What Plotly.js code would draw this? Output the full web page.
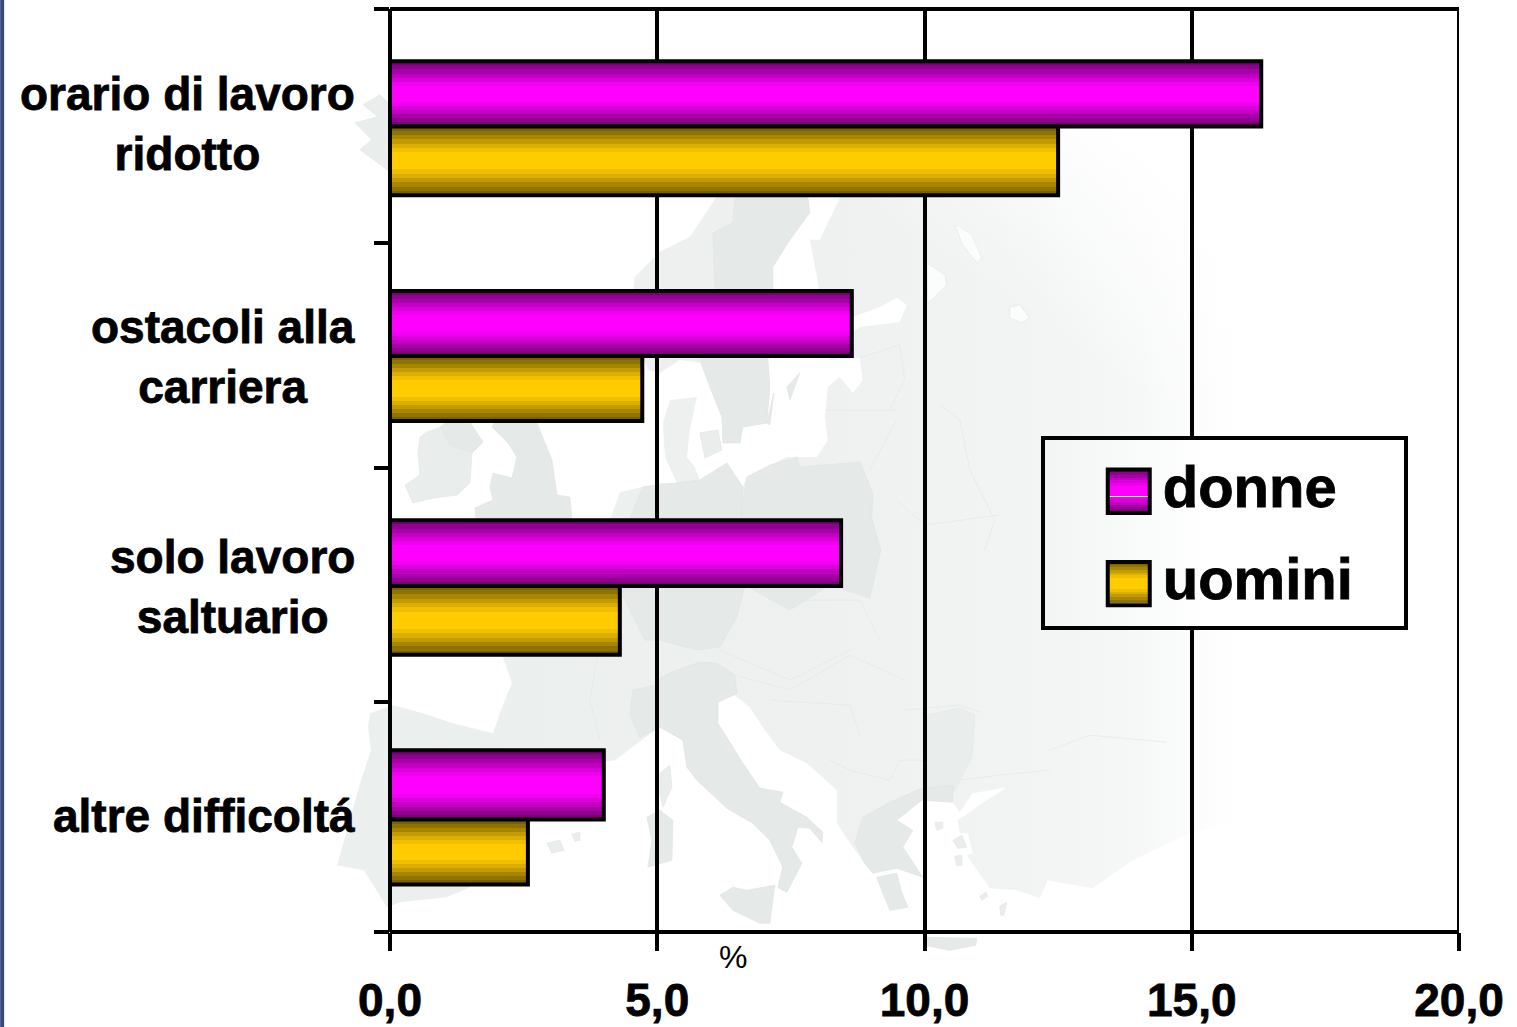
<!DOCTYPE html>
<html>
<head>
<meta charset="utf-8">
<script src="https://cdn.plot.ly/plotly-3.0.1.min.js"></script>
<style>html,body{margin:0;padding:0;background:#fff}#chart{width:1517px;height:1027px}</style>
</head>
<body>
<div id="chart"></div>
<script>
// Difficulties reported at work, share of women and men (%)
const categories = ['orario di lavoro<br>ridotto', 'ostacoli alla<br>carriera', 'solo lavoro<br>saltuario', 'altre difficoltá'];
const donne = [16.3, 8.64, 8.44, 4.0];
const uomini = [12.5, 4.72, 4.3, 2.58];
const seriesNames = ['donne', 'uomini'];
const xTickVals = [0, 5, 10, 15, 20];
const xTickText = ['0,0', '5,0', '10,0', '15,0', '20,0'];

// Vertical layout of the bands, in category units from the top of the plot
const bandEdges = [0, 1.0135, 1.99, 3.003, 4];
const labelCentres = [0.497, 1.508, 2.503, 3.498];
const groupSplits = [0.5087, 1.5035, 2.5, 3.5126];
const donneThickness = [0.2819, 0.2819, 0.284, 0.3005];
const uominiThickness = [0.298, 0.2819, 0.2988, 0.2814];

// Canvas geometry
const W = 1517, H = 1027;
const plotL = 390, plotR = 1459.4, plotT = 9.3, plotB = 931.7;
const plotW = plotR - plotL, plotH = plotB - plotT;

// Faint Europe backdrop, in canvas pixels
const landMass = [[716,100],[716,198],[690,237],[660,252],[635,277],[632,300],[640,350],[648,370],[660,373],[680,360],[703,363],[710,387],[722,417],[723,443],[740,443],[743,427],[767,423],[770,387],[768,360],[773,287],[773,267],[790,240],[810,213],[808,198],[820,160],[835,160],[840,198],[820,240],[810,240],[817,277],[820,295],[840,320],[853,317],[880,307],[897,298],[907,305],[900,322],[860,327],[835,345],[830,360],[860,358],[863,380],[853,393],[840,377],[828,387],[825,417],[828,440],[817,457],[797,457],[787,457],[747,477],[743,487],[727,463],[700,480],[695,467],[687,457],[690,430],[697,397],[670,400],[663,423],[665,457],[677,483],[660,483],[643,487],[620,492],[612,515],[600,540],[590,575],[540,640],[503,657],[512,683],[502,707],[493,733],[453,723],[423,713],[393,705],[370,713],[368,727],[371,750],[361,780],[337,865],[364,870],[387,907],[400,902],[446,897],[468,888],[500,860],[527,825],[540,800],[575,770],[600,762],[615,760],[651,733],[660,727],[683,740],[687,767],[697,780],[727,808],[753,823],[770,840],[783,867],[778,887],[787,892],[802,863],[792,847],[798,827],[810,828],[822,842],[823,832],[807,817],[780,802],[783,792],[760,788],[743,763],[718,723],[718,702],[735,695],[750,707],[763,727],[780,750],[807,763],[837,790],[837,823],[853,847],[865,863],[873,873],[897,868],[923,877],[903,847],[895,823],[913,830],[897,820],[913,807],[922,800],[953,802],[960,812],[973,793],[1007,787],[987,800],[958,820],[960,833],[968,833],[973,853],[967,855],[990,888],[1017,890],[1040,898],[1048,880],[1093,888],[1133,860],[1185,835],[1300,800],[1300,100]];
const darkerAreas = [
  // Sweden
  [[735,198],[733,223],[713,233],[715,290],[700,360],[710,387],[722,417],[723,443],[740,443],[743,427],[767,423],[770,387],[768,360],[773,287],[773,267],[790,240],[810,213],[808,198],[800,130],[760,130]],
  // Great Britain
  [[492,427],[505,405],[520,357],[540,390],[537,423],[552,460],[557,495],[570,497],[572,518],[575,570],[480,570],[475,508],[493,500],[490,487],[493,473],[512,478],[517,457],[508,443]],
  // Northern Ireland
  [[440,427],[447,422],[470,422],[483,442],[472,453],[450,445]],
  // Germany
  [[643,487],[677,483],[700,480],[727,463],[743,487],[742,510],[745,585],[737,617],[720,647],[697,650],[660,640],[645,640],[620,590],[625,530]],
  // Poland
  [[747,477],[770,465],[797,457],[800,467],[860,462],[873,493],[872,518],[881,550],[870,598],[830,585],[790,610],[745,585],[742,510]],
  // French Alps
  [[633,690],[655,685],[658,728],[640,737],[630,715]],
  // Italy
  [[660,678],[677,670],[700,662],[717,663],[735,675],[737,693],[718,702],[718,723],[743,763],[760,788],[783,792],[780,802],[807,817],[823,832],[822,842],[810,828],[798,827],[792,847],[802,863],[787,892],[778,887],[783,867],[770,840],[753,823],[727,808],[697,780],[687,767],[683,740],[660,727]],
  // Sicily, Sardinia
  [[720,895],[733,887],[747,890],[775,885],[770,923],[760,923],[733,910]],
  [[647,817],[660,810],[673,820],[672,860],[648,867],[652,840]],
  // Greece and Peloponnese
  [[855,843],[863,817],[890,802],[922,788],[953,785],[953,802],[922,800],[913,807],[897,820],[913,830],[903,847],[923,877],[897,868],[873,873],[865,863]],
  [[877,877],[897,873],[902,892],[908,907],[890,910],[883,893]],
  // Gotland, Oland, Crete
  [[787,387],[800,373],[790,400]],
  [[767,423],[774,393],[770,425]],
  [[927,937],[977,938],[976,945],[950,950],[925,945]]
];
const mediumAreas = [
  // Ireland
  [[420,437],[427,432],[447,425],[470,427],[483,442],[472,453],[470,483],[457,495],[433,498],[413,503],[405,485],[420,475],[418,453]],
  // Iceland
  [[355,123],[378,117],[363,105],[380,95],[395,110],[440,130],[430,165],[390,172],[360,150],[372,140]],
  // Corsica
  [[660,773],[670,765],[672,787],[663,807],[660,793]],
  // Zealand and Balearic islands
  [[700,433],[718,430],[722,450],[705,458]],
  [[547,843],[560,840],[564,850],[552,853]],
  [[572,834],[580,832],[580,840],[575,841]],
  // Aegean islands
  [[935,822],[943,822],[943,828],[937,830]],
  [[953,840],[962,835],[967,847],[958,848]],
  [[955,856],[962,855],[962,865],[957,865]],
  [[1000,906],[1007,902],[1004,915],[1001,915]],
  [[980,896],[986,892],[988,896],[982,900]],
  // Bulgaria
  [[927,715],[960,708],[975,715],[972,757],[955,790],[927,790]]
];
const seaPatches = [
  [[927,263],[945,275],[947,285],[932,300],[928,303]],
  [[960,227],[972,235],[982,258],[977,263],[963,245],[955,225]],
  [[1010,307],[1020,305],[1030,318],[1022,323],[1010,318]]
];
const borderLines = [
  [[827,410],[897,410]],[[897,420],[870,470]],[[940,405],[960,420],[970,470],[995,520],[985,550]],
  [[897,500],[925,525],[1000,515]],[[620,590],[600,640],[590,700],[600,740]],[[745,585],[800,600],[860,600],[880,640]],
  [[720,650],[790,680],[850,650]],[[735,675],[790,690],[850,655],[905,680]],[[770,700],[850,705],[860,735]],
  [[830,760],[850,770],[890,780],[900,760],[930,760]],[[905,710],[960,705],[980,712]],[[1050,750],[1090,735],[1167,742]],
  [[960,780],[1000,775],[1050,770]],[[860,358],[900,345],[905,380],[890,410]]
];

// Colour levels of the banded bar shading, from edge towards the middle
const bandLevels = [0.48, 0.56, 0.66, 0.76, 0.86, 0.94, 1, 1];
const seriesColours = [[255, 0, 255], [255, 204, 0]];

function pointsAttr(list) { return list.map(p => p.join(',')).join(' '); }

function backdropSvg() {
  let s = `<svg xmlns="http://www.w3.org/2000/svg" width="${W}" height="${H}" viewBox="0 0 ${W} ${H}">`;
  s += `<defs><linearGradient id="fade" gradientUnits="userSpaceOnUse" x1="400" y1="0" x2="1240" y2="0">` +
       `<stop offset="0" stop-color="#ebefed"/><stop offset="0.5" stop-color="#eef1f0"/><stop offset="0.75" stop-color="#f1f4f3"/>` +
       `<stop offset="0.88" stop-color="#f6f8f7"/><stop offset="1" stop-color="#ffffff"/></linearGradient>` +
       `<linearGradient id="north-fade" gradientUnits="userSpaceOnUse" x1="1000" y1="300" x2="1120" y2="130">` +
       `<stop offset="0" stop-color="#fff" stop-opacity="0"/><stop offset="1" stop-color="#fff" stop-opacity="1"/></linearGradient>` +
       `<filter id="soft"><feGaussianBlur stdDeviation="0.7"/></filter></defs><g filter="url(#soft)" stroke-linejoin="round">`;
  s += `<polygon points="${pointsAttr(landMass)}" fill="url(#fade)"/>`;
  mediumAreas.forEach(a => { s += `<polygon points="${pointsAttr(a)}" fill="#e9edeb" stroke="#e2e6e4" stroke-width="0.7"/>`; });
  darkerAreas.forEach(a => { s += `<polygon points="${pointsAttr(a)}" fill="#e5e9e8" stroke="#e0e5e3" stroke-width="0.7"/>`; });
  seaPatches.forEach(a => { s += `<polygon points="${pointsAttr(a)}" fill="#fbfcfc" stroke="#e2e6e4" stroke-width="0.7"/>`; });
  borderLines.forEach(a => { s += `<polyline points="${pointsAttr(a)}" fill="none" stroke="#e5e9e7" stroke-width="0.8"/>`; });
  s += `<rect x="800" y="90" width="540" height="400" fill="url(#north-fade)"/>`;
  return s + '</g></svg>';
}

function px2x(p) { return (p - plotL) / plotW; }
function px2y(p) { return 1 - (p - plotT) / plotH; }

const barFont = 'Arial, "Liberation Sans", sans-serif';
const traces = [
  { type: 'bar', orientation: 'h', name: seriesNames[0], legendgroup: seriesNames[0],
    x: donne, y: groupSplits, width: donneThickness, offset: donneThickness.map(v => -v),
    marker: { color: '#ff00ff', line: { color: '#000', width: 4 } }, hoverinfo: 'x+name' },
  { type: 'bar', orientation: 'h', name: seriesNames[1], legendgroup: seriesNames[1],
    x: uomini, y: groupSplits, width: uominiThickness, offset: 0,
    marker: { color: '#ffcc00', line: { color: '#000', width: 4 } }, hoverinfo: 'x+name' }
];

const layout = {
  width: W, height: H,
  margin: { l: plotL, r: W - plotR, t: plotT, b: H - plotB, pad: 0 },
  paper_bgcolor: '#ffffff', plot_bgcolor: 'rgba(0,0,0,0)',
  barmode: 'overlay',
  font: { family: barFont, color: '#000' },
  xaxis: {
    range: [0, 20], tickmode: 'array', tickvals: xTickVals, ticktext: xTickText,
    showgrid: true, gridcolor: '#000', gridwidth: 4,
    zeroline: true, zerolinecolor: '#000', zerolinewidth: 4, showline: false,
    ticks: 'outside', ticklen: 18, tickwidth: 4, tickcolor: '#000', ticklabelstandoff: 10,
    tickfont: { family: barFont, size: 46, color: '#000', weight: 'bold' }
  },
  yaxis: {
    range: [4, 0], tickmode: 'array', tickvals: bandEdges, showticklabels: false,
    showgrid: false, zeroline: false, showline: false,
    ticks: 'outside', ticklen: 15, tickwidth: 4, tickcolor: '#000'
  },
  images: [{
    source: 'data:image/svg+xml;charset=utf-8,' + encodeURIComponent(backdropSvg()),
    xref: 'paper', yref: 'paper', x: px2x(0), y: px2y(0),
    sizex: W / plotW, sizey: H / plotH, sizing: 'stretch', xanchor: 'left', yanchor: 'top', layer: 'below'
  }],
  shapes: [
    // dark strip down the left edge of the slide
    { type: 'rect', xref: 'paper', yref: 'paper', x0: px2x(0), x1: px2x(4), y0: px2y(H), y1: px2y(0),
      fillcolor: '#3c4a78', line: { width: 0 }, layer: 'below' },
    // top and bottom rules of the frame, and the closing line on the right
    { type: 'line', xref: 'x', yref: 'paper', x0: 0, x1: 20, y0: 1, y1: 1, line: { color: '#000', width: 4 }, layer: 'below' },
    { type: 'line', xref: 'x', yref: 'paper', x0: 0, x1: 20, y0: 0, y1: 0, line: { color: '#000', width: 4 }, layer: 'below' },
    { type: 'line', xref: 'x', yref: 'paper', x0: 20, x1: 20, y0: 0, y1: 1, line: { color: '#000', width: 4 }, layer: 'below' }
  ],
  annotations: categories.map((c, i) => ({
    text: '<b>' + c.replace('<br>', '</b><br><b>') + '</b>',
    xref: 'x', yref: 'y', x: 0, y: labelCentres[i], xanchor: 'right', yanchor: 'middle',
    xshift: -33, align: 'center', showarrow: false,
    font: { family: barFont, size: 46, color: '#000' }
  })).concat([{
    text: '%', xref: 'x', yref: 'paper', x: 6.41, y: px2y(957), xanchor: 'center', yanchor: 'middle',
    showarrow: false, font: { family: barFont, size: 32, color: '#000' }
  }]),
  legend: {
    x: px2x(1043), y: px2y(436), xanchor: 'left', yanchor: 'top', traceorder: 'grouped',
    tracegroupgap: 14, itemwidth: 106, bgcolor: '#ffffff', bordercolor: '#000', borderwidth: 4,
    font: { family: barFont, size: 58, color: '#000', weight: 'bold' },
    itemclick: false, itemdoubleclick: false
  },
  showlegend: true
};

const SVG_NS = 'http://www.w3.org/2000/svg';

// Adds the stepped shading that Plotly's flat bar fills cannot express
function bandedGradient(defs, id, rgb, whiteLines) {
  const grad = document.createElementNS(SVG_NS, 'linearGradient');
  grad.setAttribute('id', id);
  grad.setAttribute('x1', 0); grad.setAttribute('y1', 0);
  grad.setAttribute('x2', 0); grad.setAttribute('y2', 1);
  const levels = bandLevels.concat(bandLevels.slice().reverse());
  const segments = [];
  levels.forEach((lv, i) => {
    segments.push([i / levels.length, (i + 1) / levels.length, `rgb(${rgb.map(c => Math.round(c * lv)).join(',')})`]);
  });
  const add = (off, col) => {
    const st = document.createElementNS(SVG_NS, 'stop');
    st.setAttribute('offset', off); st.setAttribute('stop-color', col); grad.appendChild(st);
  };
  segments.forEach(([a, b, col]) => {
    add(a, col);
    (whiteLines || []).filter(w => w >= a && w < b).forEach(w => { add(w, col); add(w, '#fff'); add(w + 0.025, '#fff'); add(w + 0.025, col); });
    add(b, col);
  });
  defs.appendChild(grad);
}

function legendWash(defs) {
  const grad = document.createElementNS(SVG_NS, 'linearGradient');
  grad.setAttribute('id', 'legend-wash');
  [[0, '#f3f5f5'], [0.3, '#fafbfb'], [0.45, '#ffffff'], [1, '#ffffff']].forEach(([o, c]) => {
    const st = document.createElementNS(SVG_NS, 'stop');
    st.setAttribute('offset', o); st.setAttribute('stop-color', c); grad.appendChild(st);
  });
  defs.appendChild(grad);
}

Plotly.newPlot('chart', traces, layout, { displayModeBar: false, staticPlot: true }).then(gd => {
  const svg = gd.querySelector('svg.main-svg');
  const defs = svg.querySelector('defs');
  bandedGradient(defs, 'band-0', seriesColours[0]);
  bandedGradient(defs, 'band-1', seriesColours[1]);
  bandedGradient(defs, 'swatch-0', seriesColours[0], [0.6, 0.95]);
  bandedGradient(defs, 'swatch-1', seriesColours[1], [0.95]);
  legendWash(defs);

  gd.querySelectorAll('.barlayer .trace').forEach((t, i) => {
    t.querySelectorAll('path').forEach(p => { p.style.fill = `url(#band-${i})`; });
  });

  // Legend frame and swatches at their slide size
  const legend = gd.querySelector('.legend');
  const m = /translate\(([-\d.]+),\s*([-\d.]+)\)/.exec(legend.getAttribute('transform'));
  const tx = +m[1], ty = +m[2];
  const bg = legend.querySelector('rect.bg');
  bg.setAttribute('x', 1043 - tx); bg.setAttribute('y', 438 - ty);
  bg.setAttribute('width', 363); bg.setAttribute('height', 190);
  bg.style.fill = 'url(#legend-wash)';
  legend.querySelectorAll('.traces').forEach((g, i) => {
    const p = g.querySelector('.legendpoints path');
    p.setAttribute('d', 'M3,-14.7H45V28.7H3Z');
    p.style.fill = `url(#swatch-${i})`;
    p.style.stroke = '#000';
    p.style.strokeWidth = '4px';
  });

  // Heavier lettering for the large slide labels
  gd.querySelectorAll('.annotation-text, .xtick text, .legendtext').forEach(t => {
    if (t.textContent !== '%') { t.style.stroke = '#000'; t.style.strokeWidth = '0.8px'; }
  });
});
</script>
</body>
</html>
